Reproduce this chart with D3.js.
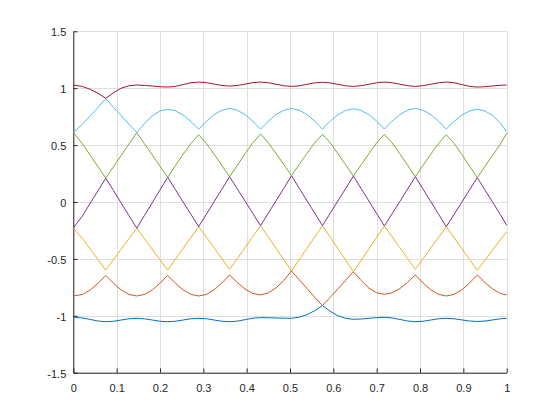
<!DOCTYPE html>
<html>
<head>
<meta charset="utf-8">
<script src="https://cdn.jsdelivr.net/npm/d3@7"></script>
<style>
  body { margin: 0; background: #fff; }
  svg text { font-family: "Liberation Sans", Arial, Helvetica, sans-serif; font-size: 11px; fill: #262626; }
</style>
</head>
<body>
<svg id="chart" width="560" height="420"></svg>
<script>
// sample positions along x (kinks every ~1/14)
const xs = [0, 0.0214, 0.0392, 0.0571, 0.0749, 0.0928, 0.1106, 0.1285, 0.1464, 0.1642, 0.1821, 0.1999,
  0.2178, 0.2356, 0.2535, 0.2714, 0.2892, 0.3071, 0.3249, 0.3428, 0.3606, 0.3785, 0.3964, 0.4142,
  0.4321, 0.4499, 0.4678, 0.4856, 0.5035, 0.5214, 0.5392, 0.5571, 0.5749, 0.5928, 0.6106, 0.6285,
  0.6464, 0.6642, 0.6821, 0.6999, 0.7178, 0.7356, 0.7535, 0.7714, 0.7892, 0.8071, 0.8249, 0.8428,
  0.8606, 0.8785, 0.8964, 0.9142, 0.9321, 0.9499, 0.9678, 0.9856, 1];

const band1 = [-1.013, -1.019, -1.032, -1.046, -1.052, -1.048, -1.037, -1.026, -1.022, -1.026, -1.037, -1.048,
  -1.052, -1.048, -1.037, -1.026, -1.022, -1.026, -1.037, -1.048, -1.052, -1.047, -1.034, -1.021,
  -1.016, -1.017, -1.019, -1.021, -1.022, -1.012, -0.99, -0.955, -0.91, -0.96, -1.0, -1.022,
  -1.031, -1.028, -1.022, -1.016, -1.013, -1.019, -1.032, -1.046, -1.052, -1.048, -1.037, -1.026,
  -1.022, -1.026, -1.036, -1.046, -1.05, -1.046, -1.036, -1.026, -1.022];

const band2 = [-0.826, -0.812, -0.773, -0.714, -0.645, -0.714, -0.773, -0.812, -0.826, -0.812, -0.773, -0.714,
  -0.645, -0.714, -0.773, -0.812, -0.826, -0.812, -0.772, -0.712, -0.641, -0.708, -0.765, -0.804,
  -0.817, -0.8, -0.755, -0.69, -0.606, -0.683, -0.76, -0.837, -0.91, -0.838, -0.763, -0.688,
  -0.612, -0.69, -0.757, -0.798, -0.811, -0.798, -0.761, -0.706, -0.641, -0.712, -0.772, -0.812,
  -0.826, -0.812, -0.772, -0.712, -0.641, -0.708, -0.765, -0.804, -0.817];

const band3 = [-0.23, -0.322, -0.414, -0.506, -0.598, -0.506, -0.414, -0.322, -0.23, -0.322, -0.414, -0.506,
  -0.598, -0.503, -0.408, -0.312, -0.217, -0.31, -0.404, -0.498, -0.592, -0.497, -0.4, -0.304,
  -0.208, -0.308, -0.407, -0.507, -0.606, -0.507, -0.407, -0.308, -0.208, -0.309, -0.41, -0.511,
  -0.612, -0.512, -0.411, -0.311, -0.211, -0.306, -0.4, -0.497, -0.592, -0.498, -0.404, -0.31,
  -0.217, -0.313, -0.408, -0.504, -0.6, -0.51, -0.42, -0.33, -0.262];

const band4 = [-0.23, -0.12, -0.01, 0.1, 0.21, 0.1, -0.01, -0.12, -0.23, -0.118, -0.007, 0.105,
  0.217, 0.108, 0.0, -0.108, -0.217, -0.107, 0.003, 0.112, 0.222, 0.115, 0.007, -0.1,
  -0.208, -0.098, 0.011, 0.12, 0.23, 0.12, 0.011, -0.098, -0.208, -0.099, 0.01, 0.119,
  0.228, 0.118, 0.008, -0.101, -0.211, -0.103, 0.005, 0.114, 0.222, 0.112, 0.003, -0.107,
  -0.217, -0.109, -0.002, 0.106, 0.214, 0.106, -0.003, -0.112, -0.205];

const band5 = [0.612, 0.51, 0.41, 0.31, 0.21, 0.31, 0.41, 0.51, 0.61, 0.512, 0.414, 0.315,
  0.217, 0.32, 0.42, 0.515, 0.59, 0.515, 0.42, 0.321, 0.222, 0.323, 0.425, 0.52,
  0.597, 0.52, 0.427, 0.33, 0.232, 0.33, 0.427, 0.52, 0.595, 0.52, 0.425, 0.327,
  0.228, 0.327, 0.425, 0.52, 0.595, 0.52, 0.423, 0.323, 0.222, 0.323, 0.42, 0.515,
  0.59, 0.515, 0.418, 0.316, 0.214, 0.314, 0.412, 0.51, 0.604];

const band6 = [0.612, 0.684, 0.758, 0.832, 0.908, 0.832, 0.758, 0.684, 0.61, 0.69, 0.757, 0.8,
  0.815, 0.802, 0.764, 0.707, 0.64, 0.71, 0.768, 0.806, 0.823, 0.806, 0.768, 0.71,
  0.64, 0.71, 0.768, 0.806, 0.823, 0.806, 0.768, 0.711, 0.641, 0.71, 0.767, 0.804,
  0.82, 0.804, 0.767, 0.71, 0.641, 0.711, 0.768, 0.806, 0.823, 0.806, 0.768, 0.711,
  0.641, 0.708, 0.764, 0.8, 0.815, 0.8, 0.76, 0.695, 0.618];

const band7 = [1.028, 1.015, 0.99, 0.955, 0.911, 0.96, 1.0, 1.021, 1.028, 1.025, 1.019, 1.013,
  1.01, 1.016, 1.032, 1.048, 1.054, 1.049, 1.036, 1.024, 1.019, 1.024, 1.036, 1.049,
  1.054, 1.048, 1.035, 1.022, 1.016, 1.021, 1.034, 1.047, 1.052, 1.047, 1.034, 1.021,
  1.016, 1.022, 1.035, 1.048, 1.054, 1.048, 1.035, 1.022, 1.016, 1.022, 1.035, 1.048,
  1.054, 1.048, 1.032, 1.016, 1.01, 1.013, 1.02, 1.026, 1.028];

const bands = [band1, band2, band3, band4, band5, band6, band7];
const bandColors = ['#0072BD', '#D95319', '#EDB120', '#7E2F8E', '#77AC30', '#4DBEEE', '#A2142F'];

const xTicks = [0, 0.1, 0.2, 0.3, 0.4, 0.5, 0.6, 0.7, 0.8, 0.9, 1];
const xTickLabels = ['0', '0.1', '0.2', '0.3', '0.4', '0.5', '0.6', '0.7', '0.8', '0.9', '1'];
const yTicks = [-1.5, -1, -0.5, 0, 0.5, 1, 1.5];
const yTickLabels = ['-1.5', '-1', '-0.5', '0', '0.5', '1', '1.5'];

const svg = d3.select('#chart');
const plotLeft = 73.3, plotRight = 506.7, plotTop = 31.3, plotBottom = 372.7;

const x = d3.scaleLinear().domain([0, 1]).range([plotLeft, plotRight]);
const y = d3.scaleLinear().domain([-1.5, 1.5]).range([plotBottom, plotTop]);

// grid
const grid = svg.append('g').attr('stroke', '#dfdfdf').attr('stroke-width', 1);
grid.selectAll('.gx').data(xTicks).join('line').classed('gx', true)
  .attr('x1', d => Math.round(x(d)) + 0.5).attr('x2', d => Math.round(x(d)) + 0.5)
  .attr('y1', plotTop).attr('y2', plotBottom);
grid.selectAll('.gy').data(yTicks).join('line').classed('gy', true)
  .attr('y1', d => Math.round(y(d)) + 0.5).attr('y2', d => Math.round(y(d)) + 0.5)
  .attr('x1', plotLeft).attr('x2', plotRight);

// axes (ticks point inward, box off)
const xAxis = d3.axisBottom(x).tickValues(xTicks)
  .tickFormat((d, i) => xTickLabels[i]).tickSizeInner(-4.3).tickSizeOuter(0).tickPadding(12);
const yAxis = d3.axisLeft(y).tickValues(yTicks)
  .tickFormat((d, i) => yTickLabels[i]).tickSizeInner(-4.3).tickSizeOuter(0).tickPadding(7);

const gx = svg.append('g').attr('transform', `translate(0,${plotBottom})`).call(xAxis);
const gy = svg.append('g').attr('transform', `translate(${plotLeft},0)`).call(yAxis);
[gx, gy].forEach(g => {
  g.attr('font-size', null).attr('font-family', null);
  g.selectAll('path, line').attr('stroke', '#262626');
  g.selectAll('text').attr('fill', '#262626');
});
gy.selectAll('text').attr('dy', '0.42em');

// bands
const line = d3.line().x((d, i) => x(xs[i])).y(d => y(d));
svg.append('g').selectAll('path').data(bands).join('path')
  .attr('d', line)
  .attr('fill', 'none')
  .attr('stroke', (d, i) => bandColors[i])
  .attr('stroke-width', 1);
</script>
</body>
</html>
